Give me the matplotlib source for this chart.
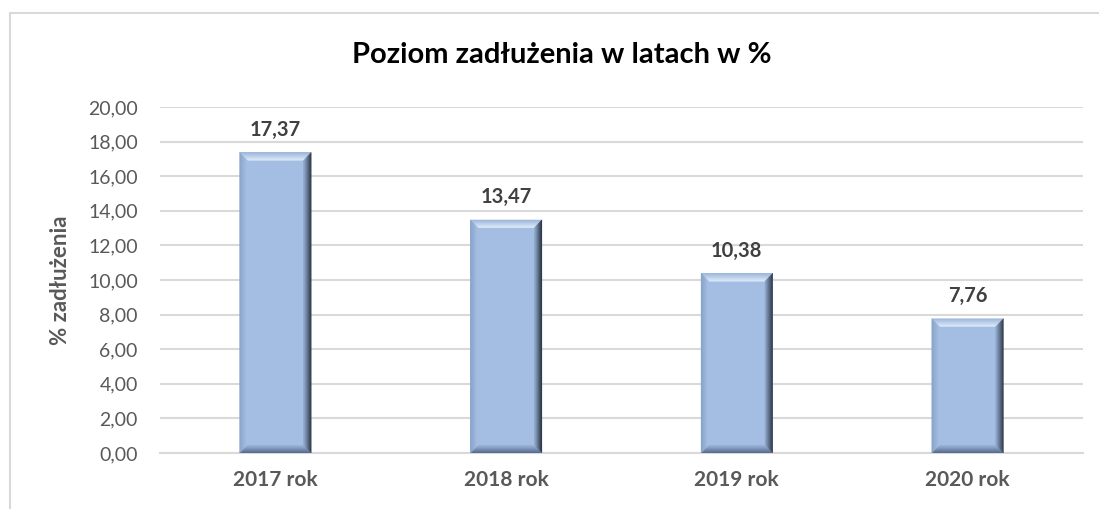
import numpy as np
import matplotlib
matplotlib.use('Agg')
import matplotlib.pyplot as plt
from matplotlib.patches import Polygon
from matplotlib.colors import to_rgb
from matplotlib.lines import Line2D

plt.rcParams['font.family'] = ['Lato', 'DejaVu Sans']

# data
years = ['2017 rok', '2018 rok', '2019 rok', '2020 rok']
debt = [17.37, 13.47, 10.38, 7.76]
yticks = np.arange(0, 22, 2)

fig = plt.figure(figsize=(10.99, 5.09), dpi=100)
ax = fig.add_axes([0.1456, 0.110, 0.8398, 0.6798])

bar_w = 0.31
face = '#A4BEE3'
x = np.arange(len(years))
bars = ax.bar(x, debt, width=bar_w, color=face, zorder=2)

# bevel look, built from each bar's own geometry
def mix(c1, c2, t):
    a, b = np.array(to_rgb(c1)), np.array(to_rgb(c2))
    return a + (b - a) * t

sides = {
    'top':    ('#9AB4DA', '#E0EDFB'),
    'right':  ('#222B3A', '#93ACCE'),
    'bottom': ('#52648A', '#9AB3D8'),
    'left':   ('#86A1C8', '#A7C0E3'),
}
dx = 0.033
dy = 0.45
n = 8
for b in bars:
    x0 = b.get_x()
    x1 = x0 + b.get_width()
    v = b.get_height()
    for k in range(n):
        t0, t1 = k / n, (k + 1) / n
        for side, (c_out, c_in) in sides.items():
            if side == 'top':
                pts = [(x0 + t0*dx, v - t0*dy), (x1 - t0*dx, v - t0*dy),
                       (x1 - t1*dx, v - t1*dy), (x0 + t1*dx, v - t1*dy)]
            elif side == 'right':
                pts = [(x1 - t0*dx, v - t0*dy), (x1 - t0*dx, t0*dy),
                       (x1 - t1*dx, t1*dy), (x1 - t1*dx, v - t1*dy)]
            elif side == 'bottom':
                pts = [(x0 + t0*dx, t0*dy), (x1 - t0*dx, t0*dy),
                       (x1 - t1*dx, t1*dy), (x0 + t1*dx, t1*dy)]
            else:
                pts = [(x0 + t0*dx, v - t0*dy), (x0 + t0*dx, t0*dy),
                       (x0 + t1*dx, t1*dy), (x0 + t1*dx, v - t1*dy)]
            col = mix(c_out, c_in, (t0 + t1) / 2)
            ax.add_patch(Polygon(pts, closed=True, facecolor=col,
                                 edgecolor=col, lw=0.3, zorder=3))

# value labels
for xi, v in zip(x, debt):
    ax.annotate(f'{v:.2f}'.replace('.', ','), (xi, v), xytext=(0, 9),
                textcoords='offset points', ha='center', va='bottom',
                fontsize=14.5, fontweight='bold', color='#404040')

ax.set_xlim(-0.5, len(years) - 0.5)
ax.set_ylim(0, 20)
ax.set_yticks(yticks)
ax.yaxis.set_major_formatter(plt.FuncFormatter(lambda v, p: f'{v:.2f}'.replace('.', ',')))
ax.set_xticks(x)
ax.set_xticklabels(years, fontsize=15, fontweight='bold', color='#595959')
ax.tick_params(axis='y', labelsize=14, labelcolor='#595959', length=0, pad=16)
ax.tick_params(axis='x', length=0, pad=12)

for s in ['top', 'right', 'left']:
    ax.spines[s].set_visible(False)
ax.spines['bottom'].set_color('#D9D9D9')
ax.spines['bottom'].set_linewidth(1.5)
ax.grid(True, axis='y', color='#D9D9D9', lw=1.5, zorder=0)
ax.set_axisbelow(True)

ax.set_ylabel('% zadłużenia', fontsize=16, fontweight='bold', color='#595959', labelpad=12)

fig.text(0.511, 0.892, 'Poziom zadłużenia w latach w %', ha='center', va='center',
         fontsize=21, fontweight='bold', color='black')

# outer chart frame (left and top edges visible)
fig.add_artist(Line2D([10/1099, 10/1099], [0, 1 - 13/509], transform=fig.transFigure,
                      color='#D9D9D9', lw=1.5))
fig.add_artist(Line2D([10/1099, 1], [1 - 13/509, 1 - 13/509], transform=fig.transFigure,
                      color='#D9D9D9', lw=1.5))

fig.savefig('out.png', dpi=100)
